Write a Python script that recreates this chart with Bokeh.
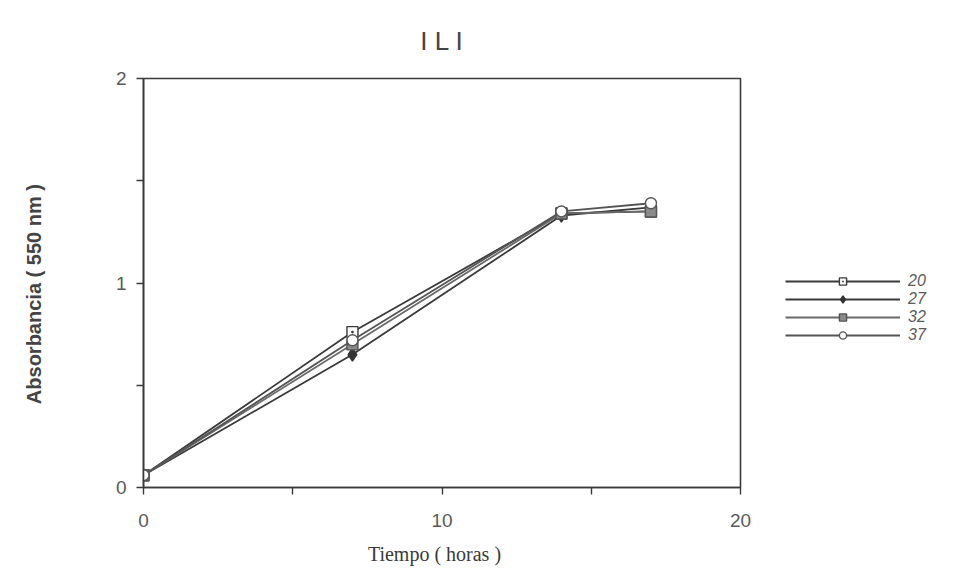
from bokeh.plotting import figure
from bokeh.models import Range1d, FixedTicker, Legend, LegendItem
from bokeh.embed import file_html
from bokeh.resources import INLINE

# ---- data ----
tiempo = [0, 7, 14, 17]
s20 = [0.06, 0.76, 1.34, 1.35]
s27 = [0.06, 0.65, 1.33, 1.37]
s32 = [0.06, 0.70, 1.34, 1.35]
s37 = [0.06, 0.72, 1.35, 1.39]
series_names = ["20", "27", "32", "37"]
x_ticks = [0, 5, 10, 15, 20]
y_ticks = [0, 0.5, 1, 1.5, 2]
x_tick_labels = {0: "0", 5: "", 10: "10", 15: "", 20: "20"}
y_tick_labels = {0: "0", 0.5: "", 1: "1", 1.5: "", 2: "2"}

ink = "#3a3a3a"
soft = "#5a5a5a"

p = figure(frame_width=597, frame_height=409, output_backend="svg", toolbar_location=None,
           x_range=Range1d(0, 20), y_range=Range1d(0, 2),
           min_border_left=143, min_border_right=0,
           min_border_top=78, min_border_bottom=88)
p.background_fill_color = "white"
p.border_fill_color = "white"
p.grid.visible = False
p.outline_line_color = ink
p.outline_line_width = 1.6

p.title.text = "I L I"
p.title.align = "center"
p.title.standoff = 45
p.title.text_font = "Liberation Sans"
p.title.text_font_style = "normal"
p.title.text_font_size = "26px"
p.title.text_color = "#444444"

for ax in (p.xaxis[0], p.yaxis[0]):
    ax.axis_line_color = ink
    ax.axis_line_width = 1.6
    ax.major_tick_line_color = ink
    ax.major_tick_line_width = 1.4
    ax.major_tick_out = 7
    ax.major_tick_in = 0
    ax.minor_tick_line_color = None
    ax.major_label_text_font = "Liberation Sans"
    ax.major_label_text_font_size = "19px"
    ax.major_label_text_color = soft

p.xaxis.ticker = FixedTicker(ticks=x_ticks)
p.yaxis.ticker = FixedTicker(ticks=y_ticks)
p.xaxis.major_label_overrides = x_tick_labels
p.yaxis.major_label_overrides = y_tick_labels
p.xaxis.major_label_standoff = 19
p.yaxis.major_label_standoff = 10

p.xaxis.axis_label = "Tiempo  (  horas  )"
p.xaxis.axis_label_text_font = "Liberation Serif"
p.xaxis.axis_label_text_font_style = "normal"
p.xaxis.axis_label_text_font_size = "20px"
p.xaxis.axis_label_text_color = ink
p.xaxis.axis_label_standoff = 13

p.yaxis.axis_label = "Absorbancia  (  550  nm  )"
p.yaxis.axis_label_text_font = "Liberation Sans"
p.yaxis.axis_label_text_font_style = "bold"
p.yaxis.axis_label_text_font_size = "20px"
p.yaxis.axis_label_text_color = "#444444"
p.yaxis.axis_label_standoff = 68

styles = [
    dict(y=s20, marker="square_dot", fill="white", line=ink, lc=ink),
    dict(y=s27, marker="diamond", fill="#333333", line="#333333", lc=ink),
    dict(y=s32, marker="square", fill="#8a8a8a", line="#555555", lc="#6a6a6a"),
    dict(y=s37, marker="circle", fill="white", line="#555555", lc="#555555"),
]

items = []
for name, st in zip(series_names, styles):
    r_line = p.line(tiempo, st["y"], line_color=st["lc"], line_width=1.8)
    r_pts = p.scatter(tiempo, st["y"], marker=st["marker"],
                      size=13 if st["marker"] == "diamond" else 11,
                      fill_color=st["fill"], line_color=st["line"], line_width=1.4)
    items.append(LegendItem(label=name, renderers=[r_line, r_pts]))

legend = Legend(items=items, location=(45, 143),
                glyph_width=115, glyph_height=18, label_height=18,
                label_standoff=8, spacing=0, padding=0, margin=0,
                border_line_color=None, background_fill_alpha=0,
                label_text_font="Liberation Sans", label_text_font_style="italic",
                label_text_font_size="16px", label_text_color=soft)
p.add_layout(legend, "right")

open("out.html", "w").write(file_html(p, INLINE))
